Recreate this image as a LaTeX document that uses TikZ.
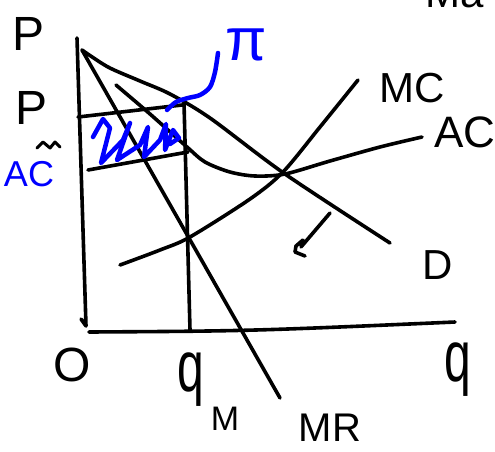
\documentclass[tikz,border=0pt]{standalone}
\usepackage{fontspec}
\setmainfont{Liberation Sans}
\begin{document}
\begin{tikzpicture}[x=1pt,y=-1pt,line width=3.6pt,line cap=round,line join=round,
    declare function={w=495;h=451;},
    lbl/.style={inner sep=0pt,font=\fontsize{48}{48}\selectfont},
    slbl/.style={inner sep=0pt,font=\fontsize{42}{42}\selectfont},
    profit/.style={draw=blue,line width=4.5pt}]
    \useasboundingbox (0,0) rectangle (w,h);
    \clip (0,0) rectangle (w,h);
    \path (77,38) coordinate (Ytop)
    (86,326) coordinate (Ybot)
    (89,332) coordinate (O)
    (455,322) coordinate (Xend)
    (82,50) coordinate (A)
    (390,243) coordinate (Dend)
    (280,398) coordinate (MRend)
    (184,103) coordinate (Qtop)
    (190,330) coordinate (Q)
    (78,117) coordinate (Pl)
    (182,105) coordinate (Pr)
    (88,170) coordinate (Cl)
    (188,152) coordinate (Cr)
    (120,265) coordinate (MCstart)
    (358,80) coordinate (MCend)
    (116,85) coordinate (ACstart)
    (422,137) coordinate (ACend)
    (285,174) coordinate (E);
    % axes
    \draw (Ytop)--(Ybot)--(81,319);
    \draw (O) .. controls (250,331) .. (Xend);
    % curves
    \draw (A)--(MRend);
    \draw plot[smooth] coordinates {(A) (108,67) (140,81) (170,94) (210,118) (E) (Dend)};
    \draw plot[smooth] coordinates {(ACstart) (150,114) (187,147) (205,162) (230,172) (255,176) (E) (330,161) (380,147) (ACend)};
    \draw plot[smooth] coordinates {(MCstart) (160,250) (190,237) (250,199) (283,172) (320,127) (MCend)};
    \draw (Qtop)--(Q) (Pl)--(Pr) (Cl)--(Cr);
    \draw (330,213)--(301,247) (303,240)--(296,246)--(295,252)--(305,256);
    % tilde over AC
    \draw[line width=3pt] (37,148)--(43,142)--(50,148)--(55,142)--(60,147);
    % profit
    \draw[profit] (93,137)--(103,119)--(110,128)--(101,163)--(123,140)--(130,123)--(117,160)--(140,145)--(148,127)--(144,157)--(160,140)--(166,124)--(165,150)--(173,130)--(179,138)--(170,144);
    \draw[profit] plot[smooth] coordinates {(167,110) (176,102) (188,98) (200,95) (210,87) (215,72) (218,53)};
    % labels
    \node[lbl] (plbl) at (29,34) {P};
    \node[lbl] (ptlbl) at (32,108) {P};
    \node[slbl,text=blue,font=\fontsize{36}{36}\selectfont] (actlbl) at (29,174) {AC};
    \node[lbl] (olbl) at (72,365) {O};
    \node[lbl] (qmlbl) at (191,380) {\scalebox{1}[1.5]{q}};
    \node[slbl,font=\fontsize{34}{34}\selectfont] (mlbl) at (225,419) {M};
    \node[lbl] (qlbl) at (458,370) {\scalebox{1}[1.5]{q}};
    \node[slbl,font=\fontsize{40}{40}\selectfont] (mrlbl) at (330,428) {MR};
    \node[slbl] (dlbl) at (438,265) {D};
    \node[slbl] (mclbl) at (412,88) {MC};
    \node[slbl,font=\fontsize{44}{44}\selectfont] (aclbl) at (465,132) {AC};
    \node[lbl,text=blue,font=\fontsize{60}{60}\selectfont] (pilbl) at (246,45) {π};
    \node[slbl] (malbl) at (455,-7) {Ma};
\end{tikzpicture}
\end{document}
